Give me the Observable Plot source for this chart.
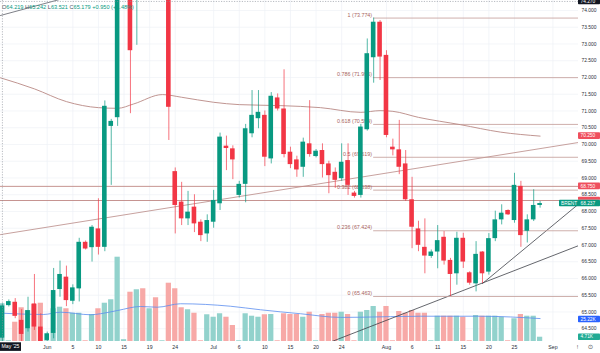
<!DOCTYPE html>
<html><head><meta charset="utf-8">
<script src="https://cdn.jsdelivr.net/npm/d3@7"></script>
<script src="https://cdn.jsdelivr.net/npm/@observablehq/plot@0.6"></script>
<style>
html,body{margin:0;padding:0;background:#fff;}
#chart{position:relative;width:600px;height:353px;overflow:hidden;}
#chart svg{position:absolute;left:0;top:0;}
</style></head><body><div id="chart"></div>
<script>
// ---------- data ----------
const dates = ["05-23","05-25","05-26","05-27","05-28","05-29","05-30",
"06-01","06-02","06-03","06-04","06-05","06-06",
"06-08","06-09","06-10","06-11","06-12","06-13",
"06-15","06-16","06-17","06-18","06-19","06-20",
"06-22","06-23","06-24","06-25","06-26","06-27",
"06-29","06-30","07-01","07-02","07-03","07-04",
"07-06","07-07","07-08","07-09","07-10","07-11",
"07-13","07-14","07-15","07-16","07-17","07-18",
"07-20","07-21","07-22","07-23","07-24","07-25",
"07-27","07-28","07-29","07-30","07-31","08-01",
"08-03","08-04","08-05","08-06","08-07","08-08",
"08-10","08-11","08-12","08-13","08-14","08-15",
"08-17","08-18","08-19","08-20","08-21","08-22",
"08-24","08-25","08-26","08-27","08-28","08-29"];
const opens = [64.219,65.19,65.29,64.75,64.50,65.24,64.55,
64.15,64.36,65.67,66.04,65.32,65.69,
67.08,66.92,67.48,66.93,70.54,70.80,
75.00,76.00,74.60,76.60,76.30,78.40,
77.00,77.50,69.19,68.28,67.78,68.13,
67.68,67.33,67.68,68.23,69.95,69.87,
68.48,68.81,70.32,70.77,70.87,69.57,
71.39,71.06,69.77,69.54,69.32,70.02,
69.64,69.82,69.42,69.17,68.98,69.52,
68.55,68.48,70.44,72.59,73.65,72.66,
69.92,69.84,69.42,68.35,67.48,66.93,
66.66,66.79,67.23,66.54,66.14,67.20,
66.17,65.84,66.79,66.19,67.19,67.75,
68.03,67.73,68.75,67.41,67.75,68.18];
const highs = [65.242,65.36,65.40,65.07,65.44,66.12,64.95,
64.40,66.30,66.52,66.37,65.81,67.20,
67.12,67.58,68.38,71.30,70.75,76.00,
75.40,76.50,76.90,77.40,78.80,79.00,
77.60,78.90,69.30,68.87,68.60,68.50,
67.75,67.90,68.63,70.34,70.25,69.96,
68.90,70.60,71.61,71.61,71.00,71.55,
71.51,72.23,69.92,69.65,70.19,71.31,
69.85,70.02,69.50,69.30,70.02,70.02,
68.60,70.60,73.15,73.774,73.70,72.80,
70.16,70.72,69.82,69.02,67.71,67.78,
66.85,67.58,67.40,66.60,67.38,67.35,
66.20,67.10,66.80,67.34,68.01,68.20,
68.05,69.14,68.90,67.90,68.65,68.30];
const lows = [63.521,65.15,64.80,64.10,64.40,64.45,63.70,
64.10,64.20,65.44,65.16,65.22,65.30,
66.85,66.49,66.70,66.80,68.78,70.54,
74.80,70.92,72.96,75.40,75.90,76.50,
76.90,70.12,67.33,67.58,67.58,67.37,
67.10,67.08,67.50,68.03,69.22,68.95,
68.40,68.26,70.20,70.47,69.34,69.42,
71.00,69.60,69.28,69.02,69.02,69.62,
69.60,69.00,68.53,68.69,68.90,68.48,
68.40,68.40,70.40,71.83,71.91,70.20,
69.66,69.10,68.30,66.89,66.80,66.14,
66.60,66.29,66.40,65.463,65.80,66.30,
65.80,65.60,65.85,66.10,67.10,67.60,
67.88,67.65,66.93,67.06,67.70,68.10];
const closes = [65.179,65.31,64.87,64.33,65.04,64.55,63.95,
64.35,65.64,66.12,65.34,65.72,67.08,
66.88,67.53,66.93,71.14,70.69,75.00,
75.30,72.80,76.50,76.20,78.40,77.00,
77.50,71.11,68.18,67.78,67.98,67.63,
67.28,67.73,68.33,70.22,69.88,69.54,
68.81,70.47,70.87,70.96,69.62,71.44,
71.06,69.70,69.40,69.24,70.07,69.70,
69.80,69.40,69.07,68.93,69.47,68.78,
68.45,70.52,72.71,73.65,72.61,70.27,
69.84,69.32,68.35,67.53,66.99,66.67,
66.79,67.13,66.52,66.12,67.20,66.49,
65.86,66.72,66.14,67.19,67.75,67.95,
67.90,68.78,67.28,67.75,68.18,68.237];
const volumes = [41.5,0.8,21.2,37.1,34.1,40.7,42.1,
0.8,36.0,37.7,36.0,31.1,31.1,
0.8,29.7,36.0,42.1,45.9,92.7,
2.0,54.2,56.9,58.0,36.0,48.1,
0.8,64.1,58.0,37.1,34.9,31.1,
0.8,29.4,26.7,30.5,26.7,17.6,
0.8,30.5,27.8,26.7,29.4,29.7,
0.8,30.5,29.7,29.7,26.7,32.2,
0.8,29.7,31.1,31.1,32.2,29.7,
0.8,32.2,34.1,38.5,32.2,38.5,
0.8,33.0,31.1,34.1,31.1,31.1,
0.8,27.8,27.8,27.8,27.8,26.7,
0.8,28.6,27.8,27.8,27.8,26.7,
0.8,25.0,29.7,27.8,27.8,4.71];
// moving average of price, bar index -> price
const maIdx = [-7.3,-2,3,8,11,13.5,18,21,26,30,36.5,42.7,49,52,54,58,64.6,70.8,77];
const maVal = [71.99,71.66,71.28,71.10,71.08,71.21,71.49,71.41,71.26,71.19,71.16,71.10,70.96,71.01,70.99,70.81,70.59,70.37,70.25];
// moving average of volume (K)
const vmaIdx = [-7.3,-0.6,2.1,6.8,8.3,11,14.6,17.2,20.8,28.6,33.3,39.6,45.8,49,58.3,67.7,77];
const vmaVal = [31.2,29.7,32.2,29.4,30.5,34.1,38.5,37.7,41.5,38.8,34.9,30.5,26.5,26.7,27.8,27.8,25.22];
// drawings (bar index, price)
const trendIdx = [-7.3, 83.0], trendVal = [67.31, 70.06];
const channelIdx = [-7.3, 12], channelVal = [73.851, 74.85];
const lineBIdx = [44.5, 83.0], lineBVal = [64.12, 66.98];
const lineAIdx = [68, 83.0], lineAVal = [65.85, 68.22];
const hLevels = [68.750, 68.328];
const fibLevels = [0, 0.236, 0.382, 0.5, 0.618, 0.786, 1];
const fibHigh = 73.774, fibLow = 65.463;
const prevClose = 64.229;
const crossPrice = 74.270;
const priceTicks = [64.5,65,65.5,66,66.5,67,67.5,68,68.5,69,69.5,70,70.5,71,71.5,72,72.5,73,73.5,74];
const xTickIdx = [0,4,8,12,16,20,26,30,34,38,42,46,53,57,61,65,69,73,79];
const xTickLabels = ["Jun","5","10","15","19","24","Jul","6","10","15","20","24","Aug","6","11","15","20","25","Sep"];

// ---------- derived tables ----------
const candles = dates.map((d, k) => ({date: d, i: k - 7, o: opens[k], h: highs[k], l: lows[k], c: closes[k], v: volumes[k]}));
const isUp = d => d.c >= d.o;
const GREEN = "#089981", RED = "#f23645";
const pts = (xs, ys) => xs.map((x, k) => ({i: x, p: ys[k]}));
const ma = pts(maIdx, maVal), vma = pts(vmaIdx, vmaVal);
const fibs = fibLevels.map(l => ({level: l, p: fibLow + l * (fibHigh - fibLow)}));
const fmt3 = p => (Math.round(p * 1000 + 1e-6) / 1000).toFixed(3);
const fibStart = candles.find(d => d.h === fibHigh).i;
const xLabel = new Map(xTickIdx.map((x, k) => [x, xTickLabels[k]]));
const last = candles[candles.length - 1];

const W = 600, H = 353, TAGH = 6.6;
const FONT = "Liberation Sans, Arial, sans-serif";
const base = {width: W, height: H, marginLeft: 0, marginRight: 22, marginTop: 0, marginBottom: 12,
  x: {type: "linear", domain: [-7.3, 83.0], axis: null},
  style: {background: "transparent", fontFamily: FONT, overflow: "visible"}};
const yPrice = {domain: [64.119, 74.2985], axis: null};

let clipCount = 0;
function tag(value, label, bg, opts = {}) {
  return (index, scales, values, dims) => {
    const yc = (opts.yc ? opts.yc(scales) : scales.y(value));
    const x0 = dims.width - dims.marginRight - (opts.extra || 0);
    const g = d3.create("svg:g").attr("text-anchor", "start").attr("font-family", FONT);
    let body = g;
    if (opts.clipBelow) {
      const yMax = opts.clipBelow(scales);
      const id = "tagclip" + (clipCount++);
      g.append("clipPath").attr("id", id).append("rect").attr("x", x0 - 1).attr("y", yc - 10).attr("width", 60).attr("height", Math.max(0, yMax - (yc - 10)));
      body = g.append("g").attr("clip-path", `url(#${id})`);
    }
    body.append("rect").attr("x", x0).attr("y", yc - TAGH / 2).attr("width", dims.marginRight + (opts.extra || 0)).attr("height", TAGH).attr("fill", bg).attr("rx", 0.8);
    if (opts.pre) body.append("text").attr("x", x0 + 2).attr("y", yc).attr("dy", "0.36em").attr("fill", "#fff").attr("font-size", 4.8).text(opts.pre);
    if (label) body.append("text").attr("x", dims.width - dims.marginRight + 2.5).attr("y", yc).attr("dy", "0.36em").attr("fill", "#fff").attr("font-size", 4.8).text(label);
    return g.node();
  };
}

// ---------- layer 1: grid + time axis ----------
const grid = Plot.plot({...base, y: yPrice, marks: [
  Plot.ruleY(priceTicks, {stroke: "#eef1f6", strokeWidth: 0.7}),
  Plot.ruleX(xTickIdx, {stroke: "#eef1f6", strokeWidth: 0.7}),
  Plot.axisX(xTickIdx, {anchor: "bottom", tickSize: 0, tickPadding: 3.5, tickFormat: d => xLabel.get(d), fontSize: 5.2, color: "#2a2e39", label: null}),
  (index, scales, values, dims) => {
    const g = d3.create("svg:g").attr("font-family", FONT).attr("text-anchor", "middle");
    const y0 = dims.height - dims.marginBottom;
    g.append("rect").attr("x", 0).attr("y", y0 + 1.3).attr("width", 21).attr("height", 8.6).attr("fill", "#131722");
    g.append("text").attr("x", 10.5).attr("y", y0 + 5.6).attr("dy", "0.36em").attr("fill", "#fff").attr("font-size", 5.2).text("May '25");
    g.append("text").attr("x", 577.5).attr("y", y0 + 5.8).attr("dy", "0.36em").attr("fill", "#555").attr("font-size", 5.5).text("!");
    g.append("text").attr("x", 590.5).attr("y", y0 + 5.8).attr("dy", "0.36em").attr("fill", "#555").attr("font-size", 6.5).attr("font-family", "DejaVu Sans").text("\u2299");
    return g.node();
  }
]});

// ---------- layer 2: volume ----------
const vmaLast = vmaVal[vmaVal.length - 1];
const vol = Plot.plot({...base, y: {domain: [0, 375], axis: null}, marks: [
  Plot.rect(candles, {x1: d => d.i - 0.41, x2: d => d.i + 0.41, y1: d => 0, y2: "v", fill: d => isUp(d) ? "#92d2cc" : "#f7a9a7", clip: true}),
  Plot.line(vma, {x: "i", y: "p", stroke: "#5b8def", strokeWidth: 0.8, curve: "monotone-x", clip: true}),
  tag(vmaLast, vmaLast.toFixed(2) + "K", "#2962ff", {yc: s => s.y(vmaLast) + 1}),
  tag(last.v, last.v.toFixed(2) + "K", "#22ab94", {yc: s => Math.min(s.y(last.v), s.y(0) - TAGH / 2 - 0.6)})
]});

// ---------- layer 3: price ----------
const colorOf = d => isUp(d) ? GREEN : RED;
const legendMark = (index, scales, values, dims) => {
  const d = candles[0], ch = d.c - prevClose;
  const t = d3.create("svg:text").attr("x", 2).attr("y", 8.8).attr("font-size", 5.6).attr("font-family", FONT).attr("text-anchor", "start");
  const parts = [["O", "#4c525e"], [d.o.toFixed(3) + " ", GREEN], ["H", "#4c525e"], [d.h.toFixed(3) + " ", GREEN],
    ["L", "#4c525e"], [d.l.toFixed(3) + " ", GREEN], ["C", "#4c525e"], [d.c.toFixed(3) + " ", GREEN],
    [(ch >= 0 ? "+" : "") + ch.toFixed(3) + " (" + (ch >= 0 ? "+" : "") + (ch / prevClose * 100).toFixed(2) + "%)", GREEN]];
  parts.forEach(([s, col]) => t.append("tspan").attr("fill", col).text(s));
  return t.node();
};
const main = Plot.plot({...base, y: yPrice, marks: [
  Plot.line(pts(trendIdx, trendVal), {x: "i", y: "p", stroke: "#b98985", strokeWidth: 0.8, clip: true}),
  Plot.line(pts(channelIdx, channelVal), {x: "i", y: "p", stroke: "#5d6068", strokeWidth: 0.8, clip: true}),
  Plot.line(pts(lineBIdx, lineBVal), {x: "i", y: "p", stroke: "#3d4048", strokeWidth: 0.8, clip: true}),
  Plot.line(pts(lineAIdx, lineAVal), {x: "i", y: "p", stroke: "#3d4048", strokeWidth: 0.8, clip: true}),
  Plot.ruleY(hLevels, {stroke: "#c08884", strokeWidth: 0.9}),
  Plot.ruleY(fibs, {y: "p", x1: () => fibStart, x2: () => 83.0, stroke: "#c29a96", strokeWidth: 0.8}),
  Plot.line(ma, {x: "i", y: "p", stroke: "#b98985", strokeWidth: 0.9, curve: "monotone-x", clip: true}),
  Plot.text(fibs, {x: () => fibStart, y: "p", text: d => `${d.level} (${fmt3(d.p)})`, textAnchor: "end", dx: -1.5, dy: -3.2, fontSize: 5.4, fill: "#a8645e"}),
  Plot.ruleX(candles, {x: "i", y1: "l", y2: "h", stroke: colorOf, strokeWidth: 0.7, clip: true}),
  Plot.rect(candles, {x1: d => d.i - 0.36, x2: d => d.i + 0.36, y1: "o", y2: "c", fill: colorOf, clip: true}),
  Plot.ruleX([candles[0].i], {stroke: "#8a8e99", strokeWidth: 0.6, strokeDasharray: "1.2,1.4"}),
  Plot.ruleY([crossPrice], {stroke: "#8a8e99", strokeWidth: 0.6, strokeDasharray: "1.2,1.4"}),
  Plot.axisY(priceTicks, {anchor: "right", tickSize: 0, tickPadding: 3, tickFormat: d => d.toFixed(3), fontSize: 4.9, color: "#2a2e39", label: null}),
  tag(maVal[maVal.length - 1], maVal[maVal.length - 1].toFixed(3), "#ef4f5d"),
  tag(hLevels[0], hLevels[0].toFixed(3), "#ef4f5d"),
  tag(hLevels[1], null, "#ef4f5d", {clipBelow: s => s.y(last.c) - TAGH / 2}),
  tag(last.c, last.c.toFixed(3), GREEN, {pre: "BRENT", extra: 19}),
  tag(crossPrice, crossPrice.toFixed(3), "#131722"),
  legendMark
]});

const el = document.getElementById("chart");
el.append(grid, vol, main);
</script></body></html>
